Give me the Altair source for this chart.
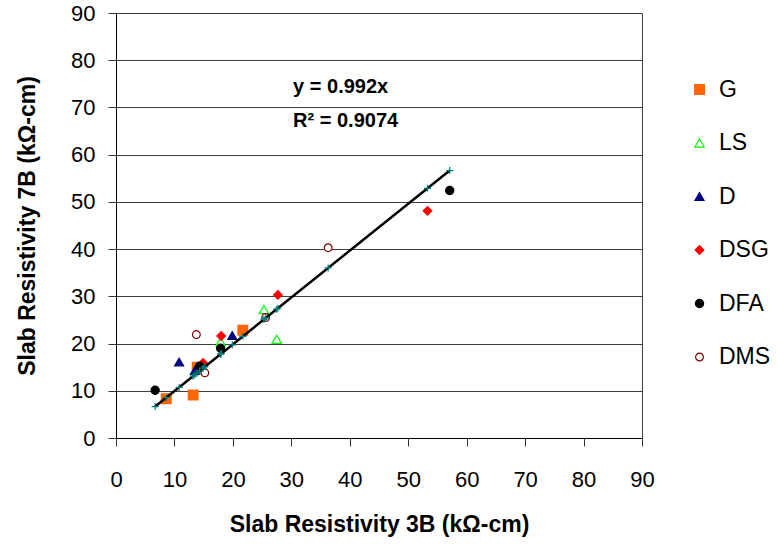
import altair as alt
import pandas as pd

# ---- data ----
series_order = ["G", "LS", "D", "DSG", "DFA", "DMS"]
shapes = ["square", "triangle-up", "triangle-up", "diamond", "circle", "circle"]
fills = ["#FF6600", "#FFFFFF", "#000080", "#FF0000", "#000000", "#FFFFFF"]
strokes = ["#FF6600", "#00FF00", "#000080", "#FF0000", "#000000", "#800000"]
marker_sizes = [95, 60, 60, 55, 45, 40]

g_x = [8.6, 13.2, 13.9, 21.7]
g_y = [8.3, 9.1, 15.0, 22.8]
ls_x = [17.9, 25.3, 27.5]
ls_y = [20.4, 27.2, 20.9]
d_x = [10.8, 13.5, 19.9]
d_y = [16.1, 14.3, 21.7]
dsg_x = [14.9, 18.0, 27.7, 53.3]
dsg_y = [15.9, 21.6, 30.3, 48.1]
dfa_x = [6.7, 14.3, 17.9, 57.1]
dfa_y = [10.1, 15.2, 19.0, 52.4]
dms_x = [13.75, 15.2, 25.6, 36.3]
dms_y = [21.9, 13.8, 25.5, 40.3]

# fitted (trend) values y = 0.992x at data x positions
fit_x = [6.7, 8.6, 10.8, 13.2, 13.5, 13.9, 14.3, 14.9, 15.2, 17.9, 18.0, 19.9,
         21.7, 25.3, 25.6, 27.5, 27.7, 36.3, 53.3, 57.1]
fit_y = [6.65, 8.53, 10.71, 13.09, 13.39, 13.79, 14.19, 14.78, 15.08, 17.76, 17.86,
         19.74, 21.53, 25.10, 25.40, 27.28, 27.48, 36.01, 52.87, 56.64]
trend_x = [6.7, 57.1]
trend_y = [6.65, 56.64]

eq_lines = ["y = 0.992x", "R² = 0.9074"]
eq_x = [30.3, 30.3]
eq_y = [74.3, 67.1]

x_ticks = list(range(0, 91, 10))
y_ticks = list(range(0, 91, 10))

# ---- build tables ----
rows = []
for name, xs, ys in [("G", g_x, g_y), ("LS", ls_x, ls_y), ("D", d_x, d_y),
                     ("DSG", dsg_x, dsg_y), ("DFA", dfa_x, dfa_y), ("DMS", dms_x, dms_y)]:
    for a, b in zip(xs, ys):
        rows.append({"series": name, "x": a, "y": b})
pts = pd.DataFrame(rows)
fit = pd.DataFrame({"x": fit_x, "y": fit_y})
trend = pd.DataFrame({"x": trend_x, "y": trend_y})
eq = pd.DataFrame({"t": eq_lines, "x": eq_x, "y": eq_y})

FONT = "Liberation Sans"

xscale = alt.Scale(domain=[0, 90], nice=False, zero=False)
yscale = alt.Scale(domain=[0, 90], nice=False, zero=False)

xaxis = alt.Axis(values=x_ticks, title="Slab Resistivity 3B (kΩ-cm)", grid=False,
                 tickSize=8, labelPadding=23, labelFlush=False,
                 titleX=263, titleY=93, titleBaseline="alphabetic", titleAlign="center")
yaxis = alt.Axis(values=y_ticks, title="Slab Resistivity 7B (kΩ-cm)", grid=True,
                 tickSize=8, labelPadding=13, labelFlush=False,
                 titleX=-82, titleY=212.5, titleAngle=270, titleBaseline="alphabetic",
                 titleAlign="center")

leg = alt.Legend(
    title=None, orient="none", legendX=572, legendY=65, padding=0,
    labelFont=FONT, labelFontSize=23, labelColor="black",
    symbolStrokeWidth=1.2, labelOffset=8, rowPadding=29.5,
    symbolOpacity=1,
)

points = alt.Chart(pts).mark_point(opacity=1, strokeWidth=1.2).encode(
    x=alt.X("x:Q", scale=xscale, axis=xaxis),
    y=alt.Y("y:Q", scale=yscale, axis=yaxis),
    shape=alt.Shape("series:N", scale=alt.Scale(domain=series_order, range=shapes), legend=leg),
    fill=alt.Fill("series:N", scale=alt.Scale(domain=series_order, range=fills), legend=leg),
    stroke=alt.Stroke("series:N", scale=alt.Scale(domain=series_order, range=strokes), legend=leg),
    size=alt.Size("series:N", scale=alt.Scale(domain=series_order, range=marker_sizes), legend=leg),
)

line = alt.Chart(trend).mark_line(color="black", strokeWidth=2.5).encode(
    x="x:Q", y="y:Q"
)

plus = alt.Chart(fit).mark_point(
    shape="M-1,0L1,0M0,-1L0,1", size=50, stroke="#008080", strokeWidth=1.2,
    filled=False, opacity=1
).encode(x="x:Q", y="y:Q")

text = alt.Chart(eq).mark_text(
    align="left", baseline="middle", font=FONT, fontSize=20, fontWeight="bold", color="black"
).encode(x="x:Q", y="y:Q", text="t:N")

chart = alt.layer(points, line, plus, text).properties(
    width=526, height=425,
    padding={"left": 116, "top": 13, "right": 135, "bottom": 106},
    autosize="none",
).configure_view(
    stroke="#404040", strokeWidth=1
).configure_axis(
    labelFont=FONT, labelFontSize=22, labelColor="black",
    titleFont=FONT, titleFontSize=23, titleFontWeight="bold", titleColor="black",
    domainColor="black", domainWidth=1, tickColor="#333333", tickWidth=1,
    gridColor="#404040", gridWidth=1, gridOpacity=1,
)

chart.save("out.html", embed_options={"renderer": "svg", "actions": False})
